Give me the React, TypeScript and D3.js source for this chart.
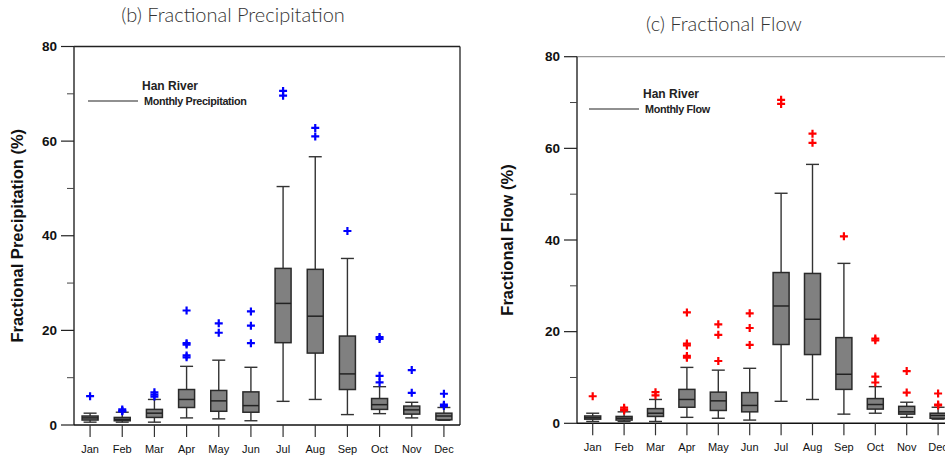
import * as d3 from 'd3';

const months = ['Jan', 'Feb', 'Mar', 'Apr', 'May', 'Jun', 'Jul', 'Aug', 'Sep', 'Oct', 'Nov', 'Dec'];

// (b) Fractional Precipitation
const precipLow = [0.6, 0.6, 0.6, 1.5, 1.3, 0.9, 5.0, 5.4, 2.2, 2.4, 1.5, 1.0];
const precipQ1 = [1.05, 0.9, 1.6, 3.7, 2.9, 2.7, 17.4, 15.2, 7.5, 3.3, 2.3, 1.1];
const precipMed = [1.5, 1.2, 2.5, 5.4, 5.1, 4.1, 25.7, 23.0, 10.8, 4.3, 3.2, 1.9];
const precipQ3 = [1.9, 1.6, 3.3, 7.5, 7.3, 7.0, 33.1, 32.9, 18.8, 5.6, 4.0, 2.5];
const precipHigh = [2.5, 2.7, 5.4, 12.4, 13.7, 12.2, 50.4, 56.7, 35.2, 8.1, 4.8, 3.7];
const precipOut = [
  [6.1],
  [3.3, 3.0, 2.9],
  [6.9, 6.4, 6.0],
  [24.2, 17.3, 17.0, 14.7, 14.3],
  [21.5, 19.5],
  [24.0, 21.0, 17.3],
  [70.6, 69.6],
  [62.8, 61.0],
  [41.0],
  [18.6, 18.2, 10.4, 9.0],
  [11.6, 6.8],
  [6.6, 4.3, 4.0],
];

// (c) Fractional Flow
const flowLow = [0.4, 0.4, 0.4, 1.3, 1.1, 0.7, 4.8, 5.2, 2.0, 2.2, 1.3, 0.9];
const flowQ1 = [0.9, 0.7, 1.5, 3.5, 2.8, 2.5, 17.2, 15.0, 7.4, 3.1, 2.0, 1.1];
const flowMed = [1.2, 1.1, 2.2, 5.2, 4.9, 3.9, 25.6, 22.7, 10.7, 4.1, 2.5, 1.7];
const flowQ3 = [1.6, 1.5, 3.2, 7.4, 6.8, 6.7, 32.9, 32.7, 18.7, 5.4, 3.7, 2.2];
const flowHigh = [2.2, 2.5, 5.2, 12.2, 11.6, 12.0, 50.2, 56.5, 34.9, 8.0, 4.6, 3.5];
const flowOut = [
  [5.9],
  [3.4, 3.0, 2.8],
  [6.8, 6.1],
  [24.2, 17.4, 17.0, 14.7, 14.3],
  [21.6, 19.3, 13.6],
  [24.0, 20.8, 17.1],
  [70.6, 69.7],
  [63.2, 61.2],
  [40.8],
  [18.5, 18.1, 10.2, 8.9],
  [11.4, 6.7],
  [6.5, 4.1, 3.9],
];

const yTicks = [0, 20, 40, 60, 80];
const yMinor = [10, 30, 50, 70];

const Panel = ({ left, right, top, bottom, low, q1, med, q3, high, out, color, title, titleX, titleY, yLabel, yLabelX, legendText, legendX, legendY, fullBox }) => {
  const x = d3.scaleBand().domain(months).range([left, right]);
  const y = d3.scaleLinear().domain([0, 80]).range([bottom, top]);
  const bw = 16;
  const cap = 13;
  const axisFont = 'Arial, "Liberation Sans", sans-serif';

  return (
    <g>
      <text x={titleX} y={titleY} textAnchor="middle" fontFamily='Lato, "Open Sans", sans-serif' fontWeight={300} fontSize={20} fill="#333">{title}</text>

      {/* frame */}
      <line x1={left} x2={right} y1={top} y2={top} stroke={fullBox ? '#222' : '#999'} strokeWidth={1.3} />
      {fullBox && <line x1={right} x2={right} y1={top} y2={bottom} stroke="#222" strokeWidth={1.3} />}
      <line x1={left} x2={left} y1={top} y2={bottom} stroke="#333" strokeWidth={1.5} />
      <line x1={left} x2={right} y1={bottom} y2={bottom} stroke="#111" strokeWidth={1.5} />

      {/* y ticks */}
      {yTicks.map(t => (
        <g key={t}>
          <line x1={left - 13} x2={left} y1={y(t)} y2={y(t)} stroke="#222" strokeWidth={1.2} />
          <text x={left - 17} y={y(t)} dy="0.35em" textAnchor="end" fontFamily={axisFont} fontWeight="bold" fontSize={13.5} fill="#111">{t}</text>
        </g>
      ))}
      {yMinor.map(t => (
        <line key={t} x1={left - 7} x2={left} y1={y(t)} y2={y(t)} stroke="#444" strokeWidth={1} />
      ))}
      <text transform={`translate(${yLabelX},${(top + bottom) / 2}) rotate(-90)`} textAnchor="middle" fontFamily={axisFont} fontWeight="bold" fontSize={16.5} fill="#111">{yLabel}</text>

      {/* x ticks */}
      {months.map(m => {
        const cx = x(m) + x.bandwidth() / 2;
        return (
          <g key={m}>
            <line x1={cx} x2={cx} y1={bottom} y2={bottom + 12} stroke="#333" strokeWidth={1.2} />
            <text x={cx} y={bottom + 28} textAnchor="middle" fontFamily={axisFont} fontSize={11} fill="#111">{m}</text>
          </g>
        );
      })}

      {/* boxes */}
      {months.map((m, i) => {
        const cx = x(m) + x.bandwidth() / 2;
        return (
          <g key={m}>
            <line x1={cx} x2={cx} y1={y(high[i])} y2={y(q3[i])} stroke="#333" strokeWidth={1.4} />
            <line x1={cx} x2={cx} y1={y(q1[i])} y2={y(low[i])} stroke="#333" strokeWidth={1.4} />
            <line x1={cx - cap / 2} x2={cx + cap / 2} y1={y(high[i])} y2={y(high[i])} stroke="#333" strokeWidth={1.4} />
            <line x1={cx - cap / 2} x2={cx + cap / 2} y1={y(low[i])} y2={y(low[i])} stroke="#333" strokeWidth={1.4} />
            <rect x={cx - bw / 2} y={y(q3[i])} width={bw} height={y(q1[i]) - y(q3[i])} fill="#808080" stroke="#2a2a2a" strokeWidth={1.5} />
            <line x1={cx - bw / 2} x2={cx + bw / 2} y1={y(med[i])} y2={y(med[i])} stroke="#222" strokeWidth={1.5} />
            {out[i].map((v, j) => (
              <path key={j} d={`M${cx - 4},${y(v)}h8M${cx},${y(v) - 4}v8`} stroke={color} strokeWidth={2.2} fill="none" />
            ))}
          </g>
        );
      })}

      {/* legend */}
      <text x={legendX + 54} y={legendY - 11} fontFamily={axisFont} fontWeight="bold" fontSize={12} fill="#222">Han River</text>
      <line x1={legendX} x2={legendX + 50} y1={legendY} y2={legendY} stroke="#222" strokeWidth={1.2} />
      <text x={legendX + 56} y={legendY + 4} fontFamily={axisFont} fontWeight="bold" fontSize={10.8} letterSpacing={-0.35} fill="#222">{legendText}</text>
    </g>
  );
};

export default function App() {
  return (
    <svg width={945} height={457} style={{ position: 'absolute', left: 0, top: 0, background: '#fff' }}>
      <Panel left={74} right={460} top={46.5} bottom={425} low={precipLow} q1={precipQ1} med={precipMed} q3={precipQ3} high={precipHigh} out={precipOut} color="#0000ff"
        title="(b) Fractional Precipitation" titleX={233} titleY={22} yLabel="Fractional Precipitation (%)" yLabelX={23}
        legendText="Monthly Precipitation" legendX={88} legendY={101} fullBox />
      <Panel left={577} right={953.8} top={56.7} bottom={423.3} low={flowLow} q1={flowQ1} med={flowMed} q3={flowQ3} high={flowHigh} out={flowOut} color="#ff0000"
        title="(c) Fractional Flow" titleX={724} titleY={31} yLabel="Fractional Flow (%)" yLabelX={513}
        legendText="Monthly Flow" legendX={589} legendY={109} />
    </svg>
  );
}
